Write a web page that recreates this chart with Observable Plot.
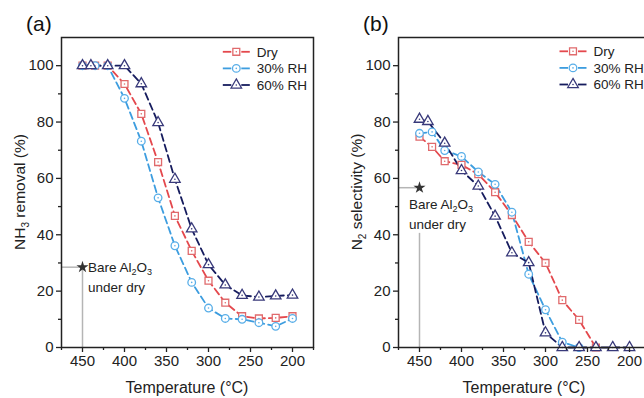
<!DOCTYPE html>
<html><head><meta charset="utf-8">
<script src="https://cdn.jsdelivr.net/npm/d3@7"></script>
<script src="https://cdn.jsdelivr.net/npm/@observablehq/plot@0.6"></script>
<style>
body{margin:0;background:#fff;overflow:hidden;}
#wrap{position:relative;width:644px;height:398px;overflow:hidden;background:#fff;}
#wrap svg{position:absolute;top:0;}
</style></head><body><div id="wrap"></div>
<script>
// ---------- data ----------
const seriesNames = ["Dry", "30% RH", "60% RH"];
const tempsDry = [450, 435, 420, 400, 380, 360, 340, 320, 300, 280, 260, 240, 220, 200];
const tempsRH30 = [450, 435, 420, 400, 380, 360, 340, 320, 300, 280, 260, 240, 220, 200];
const tempsRH60 = [450, 440, 420, 400, 380, 360, 340, 320, 300, 280, 260, 240, 220, 200];

// (a) NH3 removal (%)
const removalDry = [100, 100, 100, 93.5, 82.9, 65.8, 46.7, 34.3, 23.7, 15.9, 11.1, 10.3, 10.5, 11.1];
const removalRH30 = [100, 100, 100, 88.4, 73.2, 53.1, 36.1, 23.1, 14.0, 10.3, 10.0, 8.8, 7.5, 10.3];
const removalRH60 = [100, 100, 100, 100, 93.6, 79.8, 59.7, 42.1, 29.4, 22.2, 18.5, 17.9, 18.3, 18.6];

// (b) N2 selectivity (%)
const selTempsDry = [450, 435, 420, 400, 380, 360, 340, 320, 300, 280, 260, 240];
const selDry = [74.8, 71.2, 66.1, 64.8, 61.5, 55.1, 47.0, 37.5, 30.0, 16.8, 9.8, 0];
const selTempsRH30 = [450, 435, 420, 400, 380, 360, 340, 320, 300, 280, 260];
const selRH30 = [76.0, 76.5, 69.9, 67.8, 62.3, 57.9, 48.0, 26.0, 13.4, 1.9, 0];
const selTempsRH60 = [450, 440, 420, 400, 380, 360, 340, 320, 300, 280, 260, 240, 220, 200];
const selRH60 = [81.0, 80.2, 72.5, 62.8, 57.3, 46.6, 33.6, 30.1, 5.2, 0, 0, 0, 0, 0];

// Bare Al2O3 under dry reference points
const bareTemp = 450;
const bareRemoval = 28.5;
const bareSelectivity = 56.7;

const xMajorTicks = [450, 400, 350, 300, 250, 200];
const xMinorTicks = [475, 425, 375, 325, 275, 225, 175];
const yMajorTicks = [0, 20, 40, 60, 80, 100];
const yMinorTicks = [10, 30, 50, 70, 90];

// ---------- styles ----------
const FONT = '"Liberation Sans", Arial, Helvetica, sans-serif';
const lineColors = {"Dry": "#e4484d", "30% RH": "#3d9ddf", "60% RH": "#161c5e"};
const markColors = {"Dry": "#e06a6c", "30% RH": "#58aee8", "60% RH": "#38397a"};
const symbols = {"Dry": "square", "30% RH": "circle", "60% RH": "triangle"};
const radii = {"Dry": 3.9, "30% RH": 3.8, "60% RH": 3.9};

function rows(temps, vals, name) {
  return temps.map((t, i) => ({temp: t, value: vals[i], series: name}));
}

function addText(svg, x, y, size) {
  return svg.append("text").attr("x", x).attr("y", y).attr("font-size", size)
    .attr("fill", "#222").attr("font-family", FONT).attr("text-anchor", "start")
    .style("font-size", size + "px").style("text-anchor", "start");
}

function panel(cfg) {
  const marks = [];
  marks.push(Plot.ruleY([{t: bareTemp, v: cfg.bare}], {x1: () => 475, x2: "t", y: "v", stroke: "#b5b5b5", strokeWidth: 1.5}));
  marks.push(Plot.ruleX([{t: bareTemp, v: cfg.bareLineTop}], {x: "t", y1: "v", y2: () => 0, stroke: "#b5b5b5", strokeWidth: 1.5}));
  for (const s of cfg.series) {
    marks.push(Plot.line(s.data, {x: "temp", y: "value", stroke: lineColors[s.name], strokeWidth: 1.8, strokeDasharray: "7,4"}));
  }
  for (const s of cfg.series) {
    marks.push(Plot.dot(s.data, {x: "temp", y: "value", symbol: symbols[s.name], r: radii[s.name], stroke: markColors[s.name], fill: "white", strokeWidth: 1.3}));
    marks.push(Plot.dot(s.data, {x: "temp", y: "value", r: 0.8, fill: markColors[s.name], stroke: "none"}));
  }
  marks.push(Plot.dot([{t: bareTemp, v: cfg.bare}], {x: "t", y: "v", symbol: "star", r: 3.8, fill: "#333", stroke: "none"}));
  marks.push(Plot.frame({stroke: "#222", strokeWidth: 1.5}));
  marks.push(Plot.axisX(xMajorTicks, {tickSize: 5, tickPadding: 3, fontSize: 15, label: null, stroke: "#222", strokeWidth: 1.3}));
  marks.push(Plot.axisX(xMinorTicks, {tickSize: 3, tickFormat: () => "", label: null, stroke: "#222", strokeWidth: 1.3}));
  marks.push(Plot.axisY(yMajorTicks, {tickSize: 5, tickPadding: 3, fontSize: 15, label: null, stroke: "#222", strokeWidth: 1.3}));
  marks.push(Plot.axisY(yMinorTicks, {tickSize: 3, tickFormat: () => "", label: null, stroke: "#222", strokeWidth: 1.3}));

  const p = Plot.plot({
    width: cfg.width, height: 398,
    marginLeft: cfg.marginLeft, marginRight: cfg.marginRight, marginTop: 37, marginBottom: 51,
    x: {domain: [475, 175]},
    y: {domain: [0, 110]},
    style: {fontFamily: FONT, fontSize: "15px", color: "#222", background: "transparent", overflow: "visible"},
    marks
  });
  p.style.left = cfg.left + "px";
  const svg = d3.select(p);
  svg.selectAll('g[aria-label="x-axis tick label"], g[aria-label="y-axis tick label"]')
    .attr("font-size", 15).style("font-size", "15px").attr("font-family", FONT);
  const x = p.scale("x"), y = p.scale("y");
  const fx0 = cfg.marginLeft, fx1 = cfg.width - cfg.marginRight;
  // panel letter
  addText(svg, cfg.letterX, 31, 21).attr("fill", "#111").text(cfg.letter);
  // y label
  const yl = addText(svg, 0, 0, 15.5).attr("transform", `translate(${cfg.yLabelX},192) rotate(-90)`)
    .attr("text-anchor", "middle").style("text-anchor", "middle").attr("dy", "0.35em");
  yl.append("tspan").text(cfg.yLabel[0]);
  yl.append("tspan").attr("dy", 4).style("font-size", "10px").text(cfg.yLabel[1]);
  yl.append("tspan").attr("dy", -4).text(cfg.yLabel[2]);
  // x label
  addText(svg, (fx0 + fx1) / 2, 393, 16).attr("text-anchor", "middle").style("text-anchor", "middle").text("Temperature (\u00B0C)");
  // bare annotation
  const bx = x.apply(bareTemp) + cfg.bareDx, by = y.apply(cfg.bare) + cfg.bareDy;
  const t1 = addText(svg, bx, by, 13.5);
  t1.append("tspan").text("Bare Al");
  t1.append("tspan").attr("dy", 3).style("font-size", "9px").text("2");
  t1.append("tspan").attr("dy", -3).text("O");
  t1.append("tspan").attr("dy", 3).style("font-size", "9px").text("3");
  addText(svg, bx, by + 20, 13.5).text("under dry");
  // legend
  seriesNames.forEach((name, i) => {
    const ly = cfg.legendY + i * 16.6;
    const cx = cfg.legendX;
    const g = svg.append("g");
    g.append("line").attr("x1", cx - 13.5).attr("x2", cx - 5).attr("y1", ly).attr("y2", ly).attr("stroke", lineColors[name]).attr("stroke-width", 1.8);
    g.append("line").attr("x1", cx + 5).attr("x2", cx + 13.5).attr("y1", ly).attr("y2", ly).attr("stroke", lineColors[name]).attr("stroke-width", 1.8);
    const sym = {square: d3.symbolSquare, circle: d3.symbolCircle, triangle: d3.symbolTriangle}[symbols[name]];
    const rr = radii[name];
    g.append("path").attr("d", d3.symbol(sym, Math.PI * rr * rr)()).attr("transform", `translate(${cx},${ly})`).attr("fill", "white").attr("stroke", markColors[name]).attr("stroke-width", 1.3);
    g.append("circle").attr("cx", cx).attr("cy", ly).attr("r", 0.8).attr("fill", markColors[name]);
    addText(g, cx + 20.5, ly, 13.5).attr("dy", "0.35em").text(name);
  });
  return p;
}

const wrap = document.getElementById("wrap");
wrap.appendChild(panel({
  left: 0, width: 322, marginLeft: 61, marginRight: 9,
  letter: "(a)", letterX: 26, yLabelX: 20, yLabel: ["NH", "3", " removal (%)"],
  bare: bareRemoval, bareLineTop: bareRemoval, bareDx: 6, bareDy: 5,
  legendX: 236.3, legendY: 51.8,
  series: [
    {name: "Dry", data: rows(tempsDry, removalDry, "Dry")},
    {name: "30% RH", data: rows(tempsRH30, removalRH30, "30% RH")},
    {name: "60% RH", data: rows(tempsRH60, removalRH60, "60% RH")}
  ]
}));
wrap.appendChild(panel({
  left: 322, width: 330, marginLeft: 76, marginRight: 2,
  letter: "(b)", letterX: 41, yLabelX: 35, yLabel: ["N", "2", " selectivity (%)"],
  bare: bareSelectivity, bareLineTop: 40.5, bareDx: -10, bareDy: 22,
  legendX: 251, legendY: 51.3,
  series: [
    {name: "Dry", data: rows(selTempsDry, selDry, "Dry")},
    {name: "30% RH", data: rows(selTempsRH30, selRH30, "30% RH")},
    {name: "60% RH", data: rows(selTempsRH60, selRH60, "60% RH")}
  ]
}));
</script>
</body></html>
